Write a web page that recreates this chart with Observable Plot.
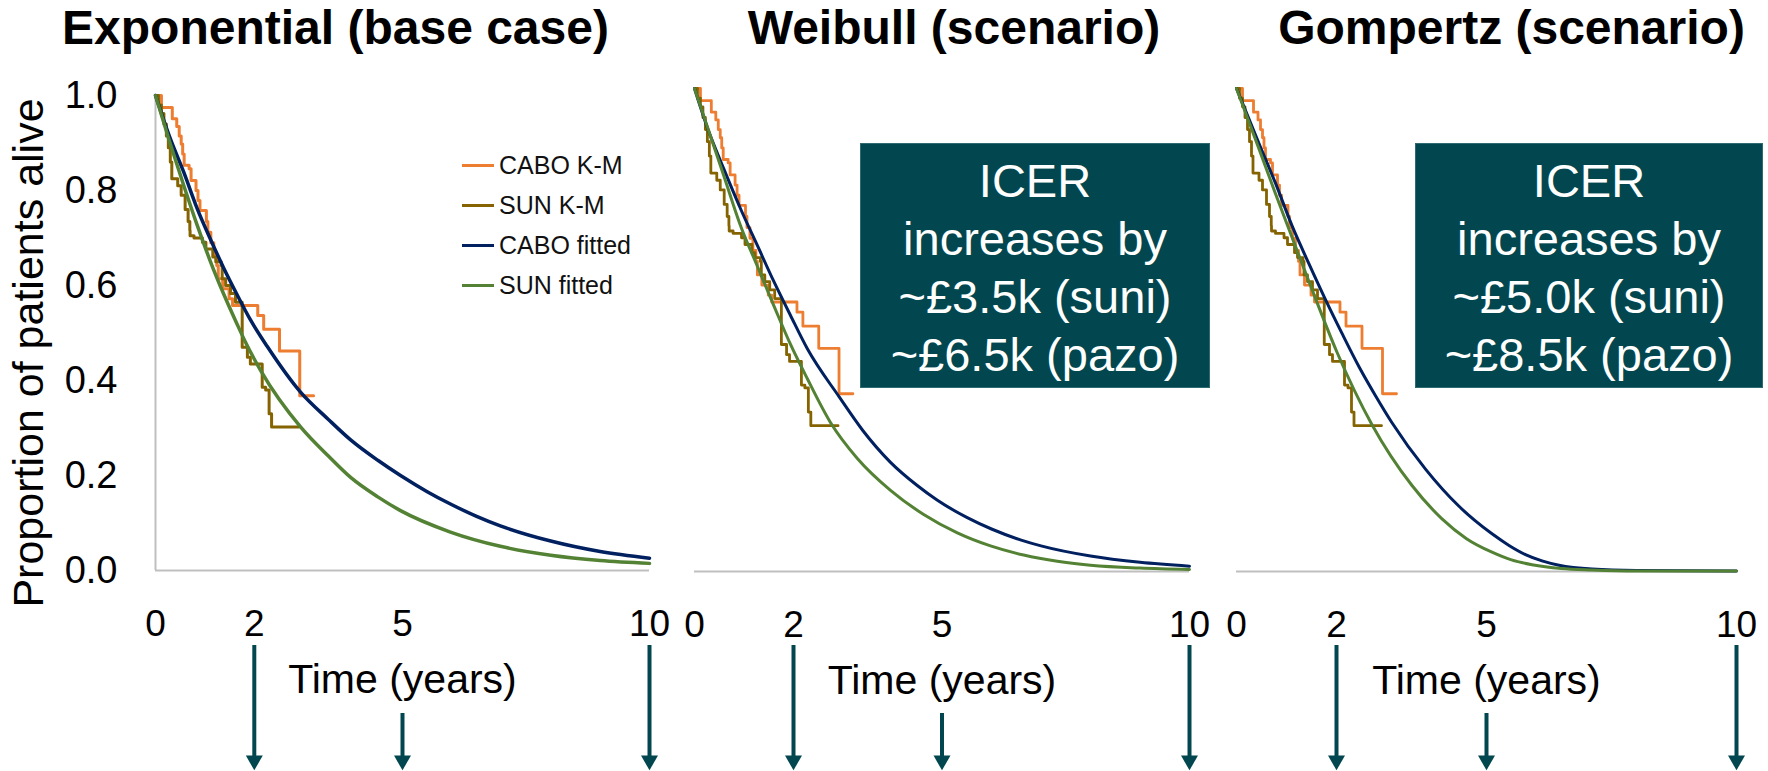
<!DOCTYPE html>
<html>
<head>
<meta charset="utf-8">
<script src="https://cdn.jsdelivr.net/npm/d3@7"></script>
<script src="https://cdn.jsdelivr.net/npm/@observablehq/plot@0.6"></script>
<style>
  html, body { margin: 0; padding: 0; background: #ffffff; }
  #chart { position: relative; width: 1768px; height: 771px; overflow: hidden;
           font-family: "Liberation Sans", Arial, sans-serif; background: #ffffff; }
  #chart svg { position: absolute; top: 0; overflow: visible; }
  .legend { position: absolute; left: 462px; top: 145px; font-size: 25px; color: #111; }
  .legend .item { height: 40px; display: flex; align-items: center; white-space: nowrap; }
  .legend .swatch { display: inline-block; width: 32px; height: 3px; margin-right: 5px; }
  .icer { position: absolute; top: 143px; height: 245px; box-sizing: border-box;
          background: #02474F; border: 1.5px solid #2E6A70; color: #ffffff;
          font-size: 47px; line-height: 58px; text-align: center; padding-top: 8px; white-space: nowrap; }
</style>
</head>
<body>
<div id="chart"></div>
<script>
// ---------- data ----------
const panelTitles = ["Exponential (base case)", "Weibull (scenario)", "Gompertz (scenario)"];
const seriesNames = ["CABO K-M", "SUN K-M", "CABO fitted", "SUN fitted"];
const xTicks = [0, 2, 5, 10];
const yTicks = [0, 0.2, 0.4, 0.6, 0.8, 1.0];
const milestoneYears = [2, 5, 10];
const xLabel = "Time (years)";
const yLabel = "Proportion of patients alive";

// Kaplan–Meier estimates: [years, proportion alive]
const caboKM = [
  [0, 1.000], [0.12, 0.975], [0.34, 0.951], [0.43, 0.935], [0.48, 0.915], [0.52, 0.898],
  [0.55, 0.877], [0.58, 0.853], [0.68, 0.846], [0.72, 0.821], [0.82, 0.800], [0.86, 0.779],
  [0.90, 0.758], [1.03, 0.735], [1.06, 0.712], [1.12, 0.690], [1.18, 0.665], [1.24, 0.642],
  [1.27, 0.614], [1.36, 0.593], [1.49, 0.572], [1.56, 0.558], [2.07, 0.537], [2.19, 0.508],
  [2.51, 0.462], [2.92, 0.368], [3.20, 0.368]
];
const sunKM = [
  [0, 1.000], [0.06, 0.980], [0.12, 0.962], [0.17, 0.940], [0.22, 0.915], [0.26, 0.890],
  [0.30, 0.860], [0.33, 0.825], [0.45, 0.810], [0.52, 0.790], [0.60, 0.760], [0.66, 0.735],
  [0.695, 0.716], [0.70, 0.705], [0.78, 0.700], [0.95, 0.691], [1.02, 0.677], [1.16, 0.660],
  [1.22, 0.650], [1.33, 0.642], [1.35, 0.614], [1.42, 0.600], [1.52, 0.583], [1.62, 0.565],
  [1.755, 0.470], [1.86, 0.449], [1.92, 0.435], [2.16, 0.386], [2.23, 0.380], [2.30, 0.330],
  [2.35, 0.302], [2.90, 0.302]
];

// Fitted survival curves: [years, proportion alive]
const caboExp = [
  [0, 1], [0.30, 0.909], [0.57, 0.839], [0.84, 0.763], [1.11, 0.698], [1.38, 0.637],
  [1.65, 0.581], [1.92, 0.528], [2.26, 0.472], [2.94, 0.375], [3.5, 0.318], [3.95, 0.275],
  [4.5, 0.232], [4.96, 0.200], [5.5, 0.166], [5.97, 0.140], [6.5, 0.114], [6.98, 0.094],
  [8.0, 0.062], [9.0, 0.040], [10, 0.026]
];
const sunExp = [
  [0, 1], [0.30, 0.898], [0.57, 0.811], [0.84, 0.728], [1.11, 0.651], [1.38, 0.582],
  [1.65, 0.519], [1.82, 0.481], [2.13, 0.421], [2.94, 0.302], [3.5, 0.241], [3.95, 0.196],
  [4.5, 0.155], [4.96, 0.126], [5.97, 0.081], [6.98, 0.051], [8.0, 0.032], [9.0, 0.021], [10, 0.015]
];
const caboWeibull = [
  [0, 1], [0.27, 0.916], [0.59, 0.834], [0.93, 0.751], [1.27, 0.675], [1.60, 0.601],
  [1.94, 0.530], [2.28, 0.461], [2.92, 0.362], [3.4, 0.292], [3.96, 0.226], [4.5, 0.178],
  [4.9, 0.148], [5.5, 0.112], [6.0, 0.088], [6.6, 0.065], [7.0, 0.053], [8.0, 0.032],
  [9.0, 0.019], [10, 0.011]
];
const sunWeibull = [
  [0, 1], [0.59, 0.820], [0.93, 0.716], [1.27, 0.632], [1.60, 0.551], [1.94, 0.470],
  [2.28, 0.399], [2.75, 0.308], [3.29, 0.234], [3.96, 0.168], [4.63, 0.118], [5.31, 0.080],
  [5.98, 0.053], [6.65, 0.034], [7.33, 0.021], [8.0, 0.013], [9.0, 0.007], [10, 0.004]
];
const caboGompertz = [
  [0, 1], [0.45, 0.886], [0.78, 0.804], [1.11, 0.716], [1.45, 0.637], [1.78, 0.563],
  [2.11, 0.493], [2.45, 0.424], [2.78, 0.364], [3.11, 0.308], [3.78, 0.212], [4.45, 0.135],
  [5.11, 0.078], [5.45, 0.054], [5.78, 0.035], [6.11, 0.022], [6.45, 0.013], [7.11, 0.005],
  [8.0, 0.002], [10, 0.001]
];
const sunGompertz = [
  [0, 1], [0.45, 0.875], [0.78, 0.782], [1.11, 0.692], [1.48, 0.592], [2.01, 0.454],
  [2.71, 0.304], [3.51, 0.178], [4.11, 0.109], [4.6, 0.068], [5.11, 0.040], [5.5, 0.024],
  [5.91, 0.014], [6.5, 0.006], [7.11, 0.003], [8.0, 0.001], [10, 0.001]
];

// ICER increase versus each comparator, per scenario
const icerScenarios = ["Weibull (scenario)", "Gompertz (scenario)"];
const icerVsSuni = ["~£3.5k", "~£5.0k"];
const icerVsPazo = ["~£6.5k", "~£8.5k"];

// ---------- styling ----------
const colors = {
  "CABO K-M": "#ED7D31",
  "SUN K-M": "#846300",
  "CABO fitted": "#002060",
  "SUN fitted": "#548235"
};
const axisGrey = "#BFBFBF";
const teal = "#02474F";
const font = '"Liberation Sans", Arial, sans-serif';
const H = 771;

const panels = [
  { title: panelTitles[0], cabo: caboExp, sun: sunExp, left: 0, width: 680,
    marginLeft: 155, marginRight: 31, marginTop: 95, marginBottom: 201,
    yAxis: true, titleDx: -67, fitWidth: 3.5, kmWidth: 3 },
  { title: panelTitles[1], cabo: caboWeibull, sun: sunWeibull, left: 680, width: 540,
    marginLeft: 14, marginRight: 31, marginTop: 88, marginBottom: 200,
    yAxis: false, titleDx: 12, fitWidth: 3, kmWidth: 2.8 },
  { title: panelTitles[2], cabo: caboGompertz, sun: sunGompertz, left: 1220, width: 548,
    marginLeft: 16, marginRight: 32, marginTop: 88, marginBottom: 200,
    yAxis: false, titleDx: 25, fitWidth: 3, kmWidth: 2.8 }
];

const chart = document.getElementById("chart");
const X = d => d[0], Y = d => d[1];

for (const p of panels) {
  const frameBottom = H - p.marginBottom;
  const arrowTop = 645, arrowTopShort = 713, arrowEnd = 758, headCenter = 760;
  const marks = [
    Plot.ruleY([0], { stroke: axisGrey, strokeWidth: 2 }),
    p.yAxis ? Plot.ruleX([0], { stroke: axisGrey, strokeWidth: 2 }) : null,
    Plot.line(caboKM, { x: X, y: Y, curve: "step-after", stroke: colors["CABO K-M"], strokeWidth: p.kmWidth }),
    Plot.line(sunKM, { x: X, y: Y, curve: "step-after", stroke: colors["SUN K-M"], strokeWidth: p.kmWidth }),
    Plot.line(p.cabo, { x: X, y: Y, curve: "monotone-x", stroke: colors["CABO fitted"], strokeWidth: p.fitWidth }),
    Plot.line(p.sun, { x: X, y: Y, curve: "monotone-x", stroke: colors["SUN fitted"], strokeWidth: p.fitWidth }),
    Plot.axisX({ ticks: xTicks, tickSize: 0, tickPadding: 39, fontSize: 37, tickFormat: d => String(d), label: null }),
    p.yAxis ? Plot.axisY({ ticks: yTicks, tickSize: 0, tickPadding: 38, fontSize: 38, tickFormat: d3.format(".1f"), label: null }) : null,
    p.yAxis ? Plot.text([yLabel], { frameAnchor: "left", textAnchor: "middle", rotate: -90, dx: -126, dy: 20, fontSize: 43 }) : null,
    // panel title
    Plot.text([p.title], { frameAnchor: "top", lineAnchor: "middle", dx: p.titleDx, dy: 28 - p.marginTop,
                           fontSize: 48, fontWeight: "bold" }),
    // x-axis title
    Plot.text([xLabel], { frameAnchor: "bottom", lineAnchor: "middle", dy: 109, fontSize: 41 }),
    // milestone arrows below the axis
    Plot.ruleX(milestoneYears.filter(t => t !== 5), { x: d => d, stroke: teal, strokeWidth: 4,
      insetTop: arrowTop - p.marginTop, insetBottom: frameBottom - arrowEnd }),
    Plot.ruleX(milestoneYears.filter(t => t === 5), { x: d => d, stroke: teal, strokeWidth: 4,
      insetTop: arrowTopShort - p.marginTop, insetBottom: frameBottom - arrowEnd }),
    Plot.dot(milestoneYears, { x: d => d, frameAnchor: "bottom", dy: headCenter - frameBottom,
      symbol: "triangle", r: 6.3, rotate: 180, fill: teal, stroke: "none" })
  ].filter(Boolean);

  const svg = Plot.plot({
    width: p.width,
    height: H,
    marginLeft: p.marginLeft,
    marginRight: p.marginRight,
    marginTop: p.marginTop,
    marginBottom: p.marginBottom,
    x: { domain: [0, 10] },
    y: { domain: [0, 1], axis: p.yAxis ? undefined : null },
    style: { fontFamily: font, color: "#000", background: "transparent", overflow: "visible" },
    marks
  });
  svg.style.left = p.left + "px";
  chart.appendChild(svg);
}

// legend (exponential panel)
const legend = document.createElement("div");
legend.className = "legend";
for (const name of seriesNames) {
  const item = document.createElement("div");
  item.className = "item";
  const sw = document.createElement("span");
  sw.className = "swatch";
  sw.style.background = colors[name];
  item.appendChild(sw);
  item.appendChild(document.createTextNode(name));
  legend.appendChild(item);
}
chart.appendChild(legend);

// ICER call-out boxes
const boxLayout = [{ left: 860, width: 350 }, { left: 1415, width: 348 }];
icerScenarios.forEach((s, i) => {
  const box = document.createElement("div");
  box.className = "icer";
  box.style.left = boxLayout[i].left + "px";
  box.style.width = boxLayout[i].width + "px";
  const lines = ["ICER", "increases by", `${icerVsSuni[i]} (suni)`, `${icerVsPazo[i]} (pazo)`];
  for (const l of lines) {
    const d = document.createElement("div");
    d.textContent = l;
    box.appendChild(d);
  }
  chart.appendChild(box);
});
</script>
</body>
</html>
